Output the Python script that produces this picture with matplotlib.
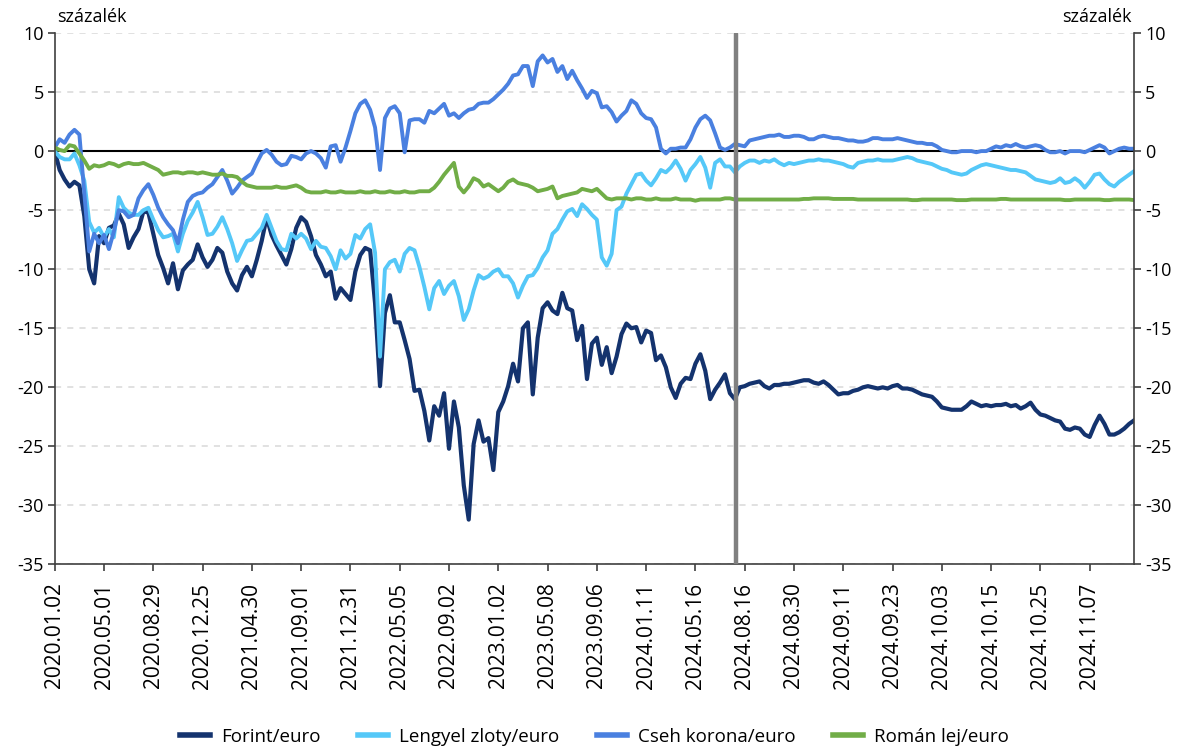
import matplotlib
matplotlib.use("Agg")
import matplotlib.pyplot as plt
import numpy as np

plt.rcParams['font.family'] = ['Open Sans', 'DejaVu Sans']
plt.rcParams['axes.unicode_minus'] = False

# category axis labels (one every 10 observations)
datumok = ["2020.01.02", "2020.05.01", "2020.08.29", "2020.12.25", "2021.04.30",
           "2021.09.01", "2021.12.31", "2022.05.05", "2022.09.02", "2023.01.02",
           "2023.05.08", "2023.09.06", "2024.01.11", "2024.05.16", "2024.08.16",
           "2024.08.30", "2024.09.11", "2024.09.23", "2024.10.03", "2024.10.15",
           "2024.10.25", "2024.11.07"]
label_step = 10
valtas = 138.2  # grey separator

forint = [
    0.0, -1.6, -2.4, -3.0, -2.6, -2.9, -5.5, -10.0, -11.2, -7.2,
    -7.8, -6.5, -6.3, -5.3, -6.2, -8.2, -7.3, -6.6, -5.1, -5.2,
    -7.0, -8.8, -9.9, -11.2, -9.5, -11.7, -10.1, -9.6, -9.2, -7.9,
    -9.0, -9.8, -9.2, -8.2, -8.6, -10.2, -11.2, -11.8, -10.5, -9.8,
    -10.6, -9.2, -7.6, -5.6, -7.1, -8.0, -8.8, -9.6, -8.3, -6.5,
    -5.6, -6.0, -7.2, -8.8, -9.6, -10.6, -10.2, -12.5, -11.6, -12.1,
    -12.6, -10.2, -8.8, -8.2, -8.4, -12.9, -19.9, -13.7, -12.2, -14.5,
    -14.5, -16.0, -17.6, -20.3, -20.2, -22.0, -24.5, -21.6, -22.4, -20.5,
    -25.2, -21.2, -23.4, -28.3, -31.2, -24.8, -22.8, -24.6, -24.3, -27.0,
    -22.1, -21.2, -19.9, -18.0, -19.5, -15.0, -14.5, -20.6, -15.8, -13.3,
    -12.8, -13.5, -13.8, -12.0, -13.3, -13.5, -16.0, -14.8, -19.3, -16.3,
    -15.8, -18.1, -16.6, -18.8, -17.4, -15.5, -14.6, -15.0, -14.9, -16.2,
    -15.2, -15.4, -17.7, -17.3, -18.3, -20.0, -20.9, -19.7, -19.2, -19.3,
    -18.0, -17.2, -18.6, -21.0, -20.2, -19.6, -18.9, -20.5, -21.0, -20.0,
    -19.9, -19.7, -19.6, -19.5, -19.9, -20.1, -19.8, -19.8, -19.7, -19.7,
    -19.6, -19.5, -19.4, -19.4, -19.6, -19.7, -19.5, -19.8, -20.2, -20.6,
    -20.5, -20.5, -20.3, -20.2, -20.0, -19.9, -20.0, -20.1, -20.0, -20.1,
    -19.9, -19.8, -20.1, -20.1, -20.2, -20.4, -20.6, -20.7, -20.8, -21.2,
    -21.7, -21.8, -21.9, -21.9, -21.9, -21.6, -21.2, -21.4, -21.6, -21.5,
    -21.6, -21.5, -21.5, -21.4, -21.6, -21.5, -21.8, -21.6, -21.3, -21.9,
    -22.3, -22.4, -22.6, -22.8, -22.9, -23.5, -23.6, -23.4, -23.5, -24.0,
    -24.2, -23.2, -22.4, -23.1, -24.0, -24.0, -23.8, -23.5, -23.1, -22.8]

zloty = [
    0.0, -0.5, -0.7, -0.7, -0.2, -1.2, -2.5, -6.0, -6.9, -6.5,
    -7.3, -6.6, -7.3, -3.9, -4.8, -5.2, -5.4, -5.4, -5.0, -4.8,
    -5.8, -6.7, -7.3, -7.2, -7.0, -8.5, -7.0, -5.9, -5.2, -4.3,
    -5.6, -7.1, -7.0, -6.4, -5.6, -6.6, -7.8, -9.3, -8.4, -7.6,
    -7.5, -7.0, -6.5, -5.4, -6.5, -7.6, -8.3, -8.4, -7.0, -7.4,
    -7.0, -7.4, -8.3, -7.6, -8.1, -8.2, -8.9, -10.0, -8.4, -9.1,
    -8.7, -7.1, -7.4, -6.6, -6.2, -8.6, -17.4, -10.0, -9.4, -9.2,
    -10.2, -8.7, -8.2, -8.4, -9.8, -11.5, -13.4, -11.6, -11.0, -12.1,
    -11.4, -11.0, -12.3, -14.3, -13.4, -11.8, -10.5, -10.8, -10.6, -10.2,
    -10.0, -10.6, -10.6, -11.2, -12.4, -11.4, -10.6, -10.5, -9.9, -9.0,
    -8.4, -7.0, -6.6, -5.8, -5.1, -4.9, -5.5, -4.5, -4.9, -5.4,
    -5.8, -9.0, -9.7, -8.7, -5.0, -4.7, -3.6, -2.8, -2.0, -1.9,
    -2.5, -2.9, -2.3, -1.6, -1.8, -1.4, -0.8, -1.5, -2.5, -1.6,
    -1.1, -0.5, -1.4, -3.1, -1.0, -0.7, -1.3, -1.3, -1.8, -1.3,
    -1.0, -0.8, -0.8, -1.0, -0.8, -0.9, -0.7, -1.0, -1.2, -1.0,
    -1.1, -1.0, -0.9, -0.8, -0.8, -0.7, -0.8, -0.8, -0.9, -1.0,
    -1.1, -1.3, -1.4, -1.0, -0.9, -0.8, -0.8, -0.7, -0.8, -0.8,
    -0.8, -0.7, -0.6, -0.5, -0.6, -0.8, -0.9, -1.0, -1.1, -1.3,
    -1.5, -1.6, -1.8, -1.9, -2.0, -1.9, -1.6, -1.4, -1.2, -1.1,
    -1.2, -1.3, -1.4, -1.5, -1.6, -1.6, -1.7, -1.8, -2.1, -2.4,
    -2.5, -2.6, -2.7, -2.6, -2.3, -2.7, -2.6, -2.3, -2.6, -3.1,
    -2.6, -2.0, -1.9, -2.4, -2.8, -3.0, -2.6, -2.3, -2.0, -1.7]

korona = [
    0.3, 1.0, 0.7, 1.4, 1.8, 1.4, -3.5, -8.5, -7.0, -7.8,
    -7.1, -8.3, -6.8, -5.0, -5.1, -5.6, -5.4, -4.0, -3.3, -2.8,
    -3.7, -4.8, -5.6, -6.2, -6.7, -7.8, -5.8, -4.3, -3.8, -3.6,
    -3.5, -3.1, -2.8, -2.2, -1.6, -2.5, -3.6, -3.1, -2.5, -2.2,
    -1.9, -1.0, -0.2, 0.1, -0.3, -0.9, -1.2, -1.1, -0.4, -0.5,
    -0.7, -0.2, 0.0, -0.2, -0.6, -1.4, 0.4, 0.5, -0.9, 0.3,
    1.7, 3.2, 4.0, 4.3, 3.5, 2.0, -1.6, 2.8, 3.6, 3.8,
    3.2, -0.1, 2.6, 2.7, 2.7, 2.4, 3.4, 3.2, 3.6, 4.0,
    3.0, 3.2, 2.8, 3.2, 3.5, 3.6, 4.0, 4.1, 4.1, 4.4,
    4.8, 5.2, 5.7, 6.4, 6.5, 7.2, 7.2, 5.5, 7.6, 8.1,
    7.5, 7.8, 6.7, 7.2, 6.1, 6.8, 6.0, 5.3, 4.5, 5.1,
    4.9, 3.7, 3.8, 3.3, 2.5, 3.0, 3.4, 4.3, 4.0, 3.2,
    2.8, 2.7, 2.0, 0.2, -0.2, 0.2, 0.2, 0.3, 0.3, 1.0,
    2.0, 2.7, 3.0, 2.6, 1.5, 0.3, 0.1, 0.3, 0.6, 0.5,
    0.4, 0.9, 1.0, 1.1, 1.2, 1.3, 1.3, 1.4, 1.2, 1.2,
    1.3, 1.3, 1.2, 1.0, 1.0, 1.2, 1.3, 1.2, 1.1, 1.1,
    1.0, 0.9, 0.9, 0.8, 0.8, 0.9, 1.1, 1.1, 1.0, 1.0,
    1.0, 1.1, 1.0, 0.9, 0.8, 0.7, 0.7, 0.6, 0.6, 0.4,
    0.1, 0.0, -0.1, -0.1, 0.0, 0.0, 0.0, -0.1, 0.0, 0.0,
    0.2, 0.4, 0.3, 0.5, 0.4, 0.6, 0.4, 0.3, 0.4, 0.5,
    0.4, 0.1, -0.1, -0.1, 0.0, -0.2, 0.0, 0.0, 0.0, -0.1,
    0.1, 0.3, 0.5, 0.3, -0.2, 0.0, 0.2, 0.3, 0.2, 0.2]

lej = [
    0.3, 0.1, 0.0, 0.5, 0.4, -0.2, -0.8, -1.5, -1.2, -1.3,
    -1.2, -1.0, -1.1, -1.3, -1.1, -1.0, -1.1, -1.1, -1.0, -1.2,
    -1.4, -1.6, -2.0, -1.9, -1.8, -1.8, -1.9, -1.8, -1.8, -1.9,
    -1.8, -1.9, -2.0, -2.0, -1.9, -2.1, -2.1, -2.2, -2.6, -2.9,
    -3.0, -3.1, -3.1, -3.1, -3.1, -3.0, -3.1, -3.1, -3.0, -2.9,
    -3.1, -3.4, -3.5, -3.5, -3.5, -3.4, -3.5, -3.5, -3.4, -3.5,
    -3.5, -3.5, -3.4, -3.5, -3.5, -3.4, -3.5, -3.5, -3.4, -3.5,
    -3.5, -3.4, -3.5, -3.5, -3.4, -3.4, -3.4, -3.1, -2.6, -2.0,
    -1.5, -1.0, -3.0, -3.5, -3.0, -2.3, -2.5, -3.0, -2.8, -3.1,
    -3.4, -3.1, -2.6, -2.4, -2.7, -2.8, -2.9, -3.1, -3.4, -3.3,
    -3.2, -3.0, -4.0, -3.8, -3.7, -3.6, -3.5, -3.2, -3.3, -3.4,
    -3.2, -3.6, -4.0, -4.1, -4.0, -4.0, -4.0, -4.1, -4.0, -4.0,
    -4.1, -4.1, -4.0, -4.1, -4.1, -4.1, -4.0, -4.1, -4.1, -4.1,
    -4.2, -4.1, -4.1, -4.1, -4.1, -4.1, -4.0, -4.0, -4.1, -4.1,
    -4.1, -4.1, -4.1, -4.1, -4.1, -4.1, -4.1, -4.1, -4.1, -4.1,
    -4.1, -4.1, -4.05, -4.05, -4.0, -4.0, -4.0, -4.0, -4.05, -4.05,
    -4.05, -4.05, -4.05, -4.1, -4.1, -4.1, -4.1, -4.1, -4.1, -4.1,
    -4.1, -4.1, -4.1, -4.1, -4.15, -4.15, -4.1, -4.1, -4.1, -4.1,
    -4.1, -4.1, -4.1, -4.15, -4.15, -4.15, -4.1, -4.1, -4.1, -4.1,
    -4.1, -4.1, -4.05, -4.05, -4.1, -4.1, -4.1, -4.1, -4.1, -4.1,
    -4.1, -4.1, -4.1, -4.1, -4.1, -4.15, -4.15, -4.1, -4.1, -4.1,
    -4.1, -4.1, -4.1, -4.15, -4.15, -4.1, -4.1, -4.1, -4.1, -4.15]

nevek = ["Forint/euro", "Lengyel zloty/euro", "Cseh korona/euro", "Román lej/euro"]
szinek = ["#14336e", "#55c8f8", "#4a80e0", "#71ad47"]
vastag = [3.0, 2.8, 2.8, 2.8]

fig = plt.figure(figsize=(11.77, 7.46), dpi=100)
ax = fig.add_axes([0.0465, 0.2433, 0.917, 0.7125])

x = np.arange(len(forint))
for adat, nev, szin, lw in zip([forint, zloty, korona, lej], nevek, szinek, vastag):
    ax.plot(x, adat, color=szin, lw=lw, label=nev)

ax.axhline(0, color='black', lw=1.5, zorder=1)
ax.axvline(valtas, color='#808080', lw=3.2, zorder=6)

ax.set_xlim(0, len(forint) - 1)
ax.set_ylim(-35, 10)
ax.set_yticks(np.arange(-35, 11, 5))
ax.yaxis.grid(True, linestyle=(0, (4, 4)), color='#d9d9d9', lw=1.1)
ax.set_axisbelow(True)

ax.set_xticks(np.arange(0, len(datumok) * label_step, label_step))
ax.set_xticklabels(datumok, rotation=90, fontsize=15)

for s in ['left', 'right', 'bottom']:
    ax.spines[s].set_color('#404040')
    ax.spines[s].set_linewidth(1.2)
ax.spines['top'].set_visible(False)

ax.tick_params(axis='y', left=True, right=True, labelleft=True, labelright=True,
               direction='out', length=5, width=1.2, color='#404040', labelsize=13, pad=3)
ax.tick_params(axis='x', direction='out', length=5, width=1.2, color='#404040', pad=8)

fig.text(0.0485, 0.977, "százalék", fontsize=13, ha='left', va='center')
fig.text(0.9615, 0.977, "százalék", fontsize=13, ha='right', va='center')

fig.legend(loc='lower center', bbox_to_anchor=(0.505, -0.022), ncol=4, frameon=False,
           fontsize=13.5, handlelength=1.6, handletextpad=0.6, columnspacing=2.0)
for l in fig.legends[0].get_lines():
    l.set_linewidth(4)

fig.savefig("out.png", dpi=100)
